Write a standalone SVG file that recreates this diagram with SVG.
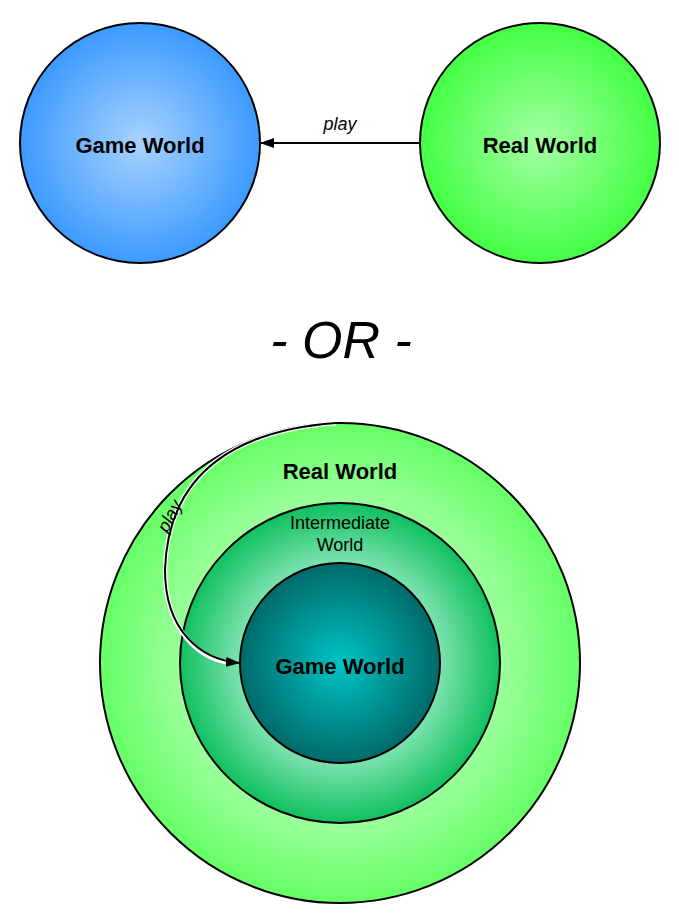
<svg xmlns="http://www.w3.org/2000/svg" width="679" height="920" viewBox="0 0 679 920">
<style>
.node{stroke:#000;stroke-width:2}
.lbl{font-family:"Liberation Sans",Arial,sans-serif;font-weight:bold;font-size:22px;text-anchor:middle;fill:#000}
.small{font-family:"Liberation Sans",Arial,sans-serif;font-size:18px;text-anchor:middle;fill:#000}
.edge-lbl{font-family:"Liberation Sans",Arial,sans-serif;font-style:italic;font-size:18px;text-anchor:middle;fill:#000}
.conn{fill:none;stroke:#000;stroke-width:2}
</style>
<defs>
<radialGradient id="gBlue" cx="0.5" cy="0.5" r="0.5"><stop offset="0" stop-color="#a8d2ff"/><stop offset="1" stop-color="#3c9aff"/></radialGradient>
<radialGradient id="gGreen" cx="0.5" cy="0.5" r="0.5"><stop offset="0" stop-color="#a4ffa4"/><stop offset="1" stop-color="#44ff44"/></radialGradient>
<radialGradient id="gOuter" cx="0.5" cy="0.5" r="0.5"><stop offset="0.6" stop-color="#a6ffa6"/><stop offset="1" stop-color="#66ff66"/></radialGradient>
<radialGradient id="gMid" cx="0.5" cy="0.5" r="0.5"><stop offset="0.6" stop-color="#84e4b4"/><stop offset="1" stop-color="#10c060"/></radialGradient>
<radialGradient id="gInner" cx="0.5" cy="0.5" r="0.5"><stop offset="0" stop-color="#00c4c4"/><stop offset="1" stop-color="#006a6a"/></radialGradient>
<marker id="arr" viewBox="0 0 14 10" refX="14" refY="5" markerWidth="14" markerHeight="10" markerUnits="userSpaceOnUse" orient="auto"><path d="M0,0 L14,5 L0,10 Z" fill="#000"/></marker>
</defs>
<g id="gameWorldTop"><circle class="node" cx="140" cy="143" r="120" fill="url(#gBlue)"/><text class="lbl" x="140" y="153">Game World</text></g>
<g id="realWorldTop"><circle class="node" cx="540" cy="143" r="120" fill="url(#gGreen)"/><text class="lbl" x="540" y="153">Real World</text></g>
<text x="341" y="358" font-family="'Liberation Sans',Arial,sans-serif" font-style="italic" font-size="52" text-anchor="middle">- OR -</text>
<g id="realWorldOuter"><circle class="node" cx="340" cy="663" r="240" fill="url(#gOuter)"/><text class="lbl" x="340" y="479">Real World</text></g>
<g id="intermediateWorld"><circle class="node" cx="340" cy="663" r="160" fill="url(#gMid)"/><text class="small" x="340" y="529">Intermediate</text><text class="small" x="340" y="551">World</text></g>
<g id="gameWorldInner"><circle class="node" cx="340" cy="663" r="100" fill="url(#gInner)"/><text class="lbl" x="340" y="674">Game World</text></g>
<g id="connectors">
<line class="conn" x1="420" y1="143" x2="260" y2="143" marker-end="url(#arr)"/>
<text class="edge-lbl" x="340" y="130">play</text>
<path d="M 336 423 C 240 430, 168 470, 165 570 C 165 630, 200 660, 230 662.5" fill="none" stroke="#fff" stroke-width="4.5"/>
<path class="conn" d="M 336 423 C 240 430, 168 470, 165 570 C 165 630, 200 660, 240 663" marker-end="url(#arr)"/>
<text class="edge-lbl" transform="translate(175,519) rotate(-62)">play</text>
</g>
</svg>
